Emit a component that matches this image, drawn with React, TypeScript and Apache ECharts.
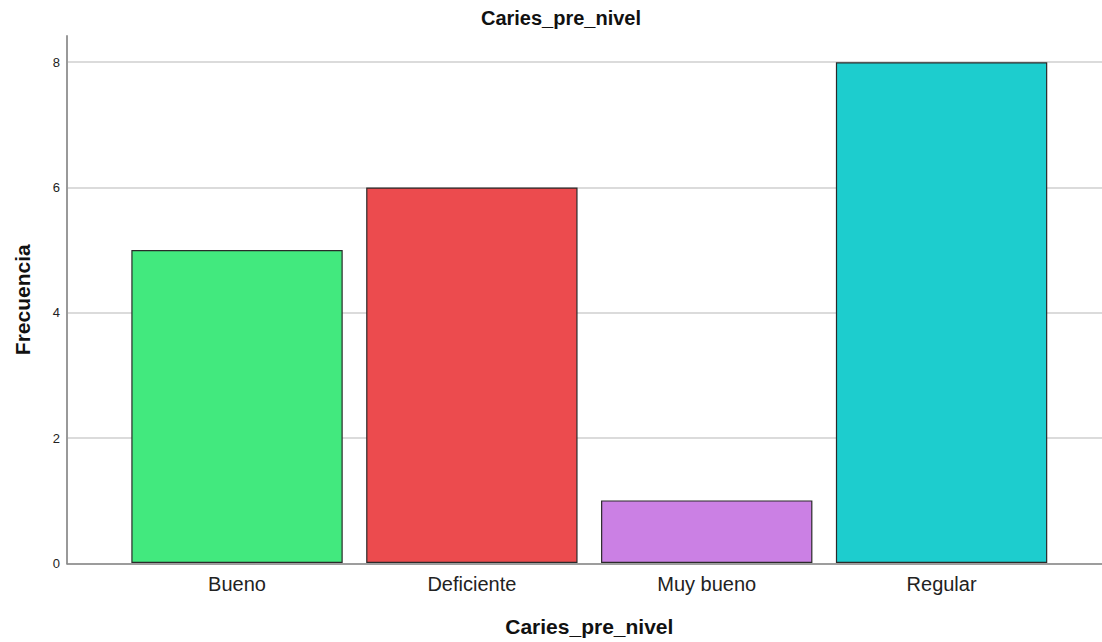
import React, { useEffect, useRef } from "react";
import * as echarts from "echarts";

const categories = ["Bueno", "Deficiente", "Muy bueno", "Regular"];
const values = [5, 6, 1, 8];
const barColors = ["#42E97E", "#EC4B4E", "#CB80E4", "#1DCDCE"];
const yTicks = [0, 2, 4, 6, 8];

export default function App() {
  const ref = useRef<HTMLDivElement>(null);
  useEffect(() => {
    const chart = echarts.init(ref.current!, undefined, { renderer: "svg" });
    const font = "Liberation Sans, Arial, sans-serif";
    const top = 36;
    const bottom = 642 - 563.5;
    const topMax = 8.42;
    chart.setOption({
      animation: false,
      title: {
        text: "Caries_pre_nivel",
        left: 556,
        textAlign: "center",
        top: 3,
        textStyle: { fontFamily: font, fontSize: 20, fontWeight: "bold", color: "#111" },
      },
      grid: [
        { left: 119.6, width: 939.4, top: top, bottom: bottom },
        { left: 67, right: 0, top: 62, bottom: bottom },
        { left: 67, right: 0, top: top, bottom: bottom },
      ],
      xAxis: [
        {
          type: "category",
          gridIndex: 0,
          data: categories,
          axisLine: { show: false },
          axisTick: { show: false },
          axisLabel: { fontFamily: font, fontSize: 20, color: "#222", margin: 11 },
          name: "Caries_pre_nivel",
          nameLocation: "middle",
          nameGap: 53,
          nameTextStyle: { fontFamily: font, fontSize: 21, fontWeight: "bold", color: "#111" },
        },
        {
          type: "value",
          gridIndex: 1,
          min: 0,
          max: 1,
          axisLine: { show: true, onZero: false, lineStyle: { color: "#888", width: 1.5 } },
          axisTick: { show: false },
          axisLabel: { show: false },
          splitLine: { show: false },
        },
        {
          type: "value",
          gridIndex: 2,
          min: 0,
          max: 1,
          show: false,
        },
      ],
      yAxis: [
        {
          type: "value",
          gridIndex: 0,
          min: 0,
          max: topMax,
          show: false,
        },
        {
          type: "value",
          gridIndex: 1,
          min: yTicks[0],
          max: yTicks[yTicks.length - 1],
          interval: 2,
          axisLine: { show: false },
          axisTick: { show: false },
          axisLabel: { fontFamily: font, fontSize: 13, color: "#222", margin: 7 },
          splitLine: { show: true, lineStyle: { color: "#cfcfcf", width: 1.5 } },
        },
        {
          type: "value",
          gridIndex: 2,
          min: 0,
          max: topMax,
          axisLine: { show: true, lineStyle: { color: "#999", width: 2 } },
          axisTick: { show: false },
          axisLabel: { show: false },
          splitLine: { show: false },
          name: "Frecuencia",
          nameLocation: "middle",
          nameGap: 34,
          nameTextStyle: { fontFamily: font, fontSize: 21, fontWeight: "bold", color: "#111" },
        },
      ],
      series: [
        {
          type: "bar",
          xAxisIndex: 0,
          yAxisIndex: 0,
          barCategoryGap: "10%",
          data: values.map((v, i) => ({
            value: v,
            itemStyle: { color: barColors[i] },
          })),
          itemStyle: { borderColor: "#2a2a2a", borderWidth: 1.2 },
          z: 5,
        },
      ],
    });
    return () => chart.dispose();
  }, []);
  return (
    <div
      ref={ref}
      style={{ position: "fixed", left: 0, top: 0, width: 1102, height: 642, background: "#fff" }}
    />
  );
}
